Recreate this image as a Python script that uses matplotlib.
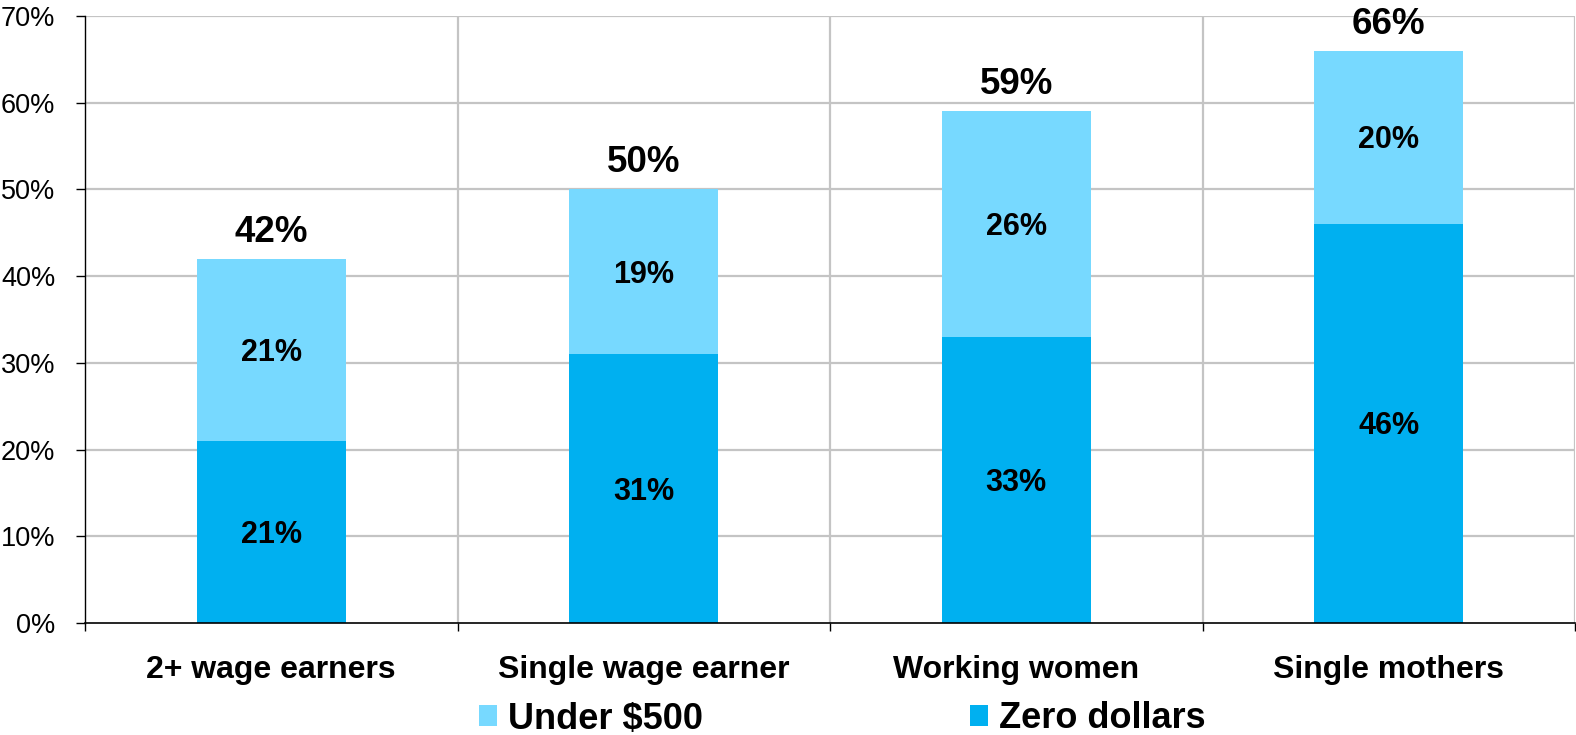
import matplotlib

matplotlib.use("Agg")
import matplotlib.pyplot as plt  # noqa: E402
import numpy as np  # noqa: E402
from matplotlib.patches import Patch  # noqa: E402

plt.rcParams["font.family"] = ["Liberation Sans", "DejaVu Sans"]

categories = ["2+ wage earners", "Single wage earner", "Working women", "Single mothers"]
zero_dollars = [21, 31, 33, 46]
under_500 = [21, 19, 26, 20]
totals = [42, 50, 59, 66]
y_ticks = [0, 10, 20, 30, 40, 50, 60, 70]

DARK = "#00B0F0"
LIGHT = "#77D9FF"
GRID = "#c4c4c4"

fig = plt.figure(figsize=(15.76, 7.35), dpi=100)
ax = fig.add_axes([85 / 1576, 112 / 735, 1490 / 1576, 607 / 735])

x = np.arange(len(categories))
ax.bar(x, zero_dollars, width=0.4, color=DARK, zorder=3)
ax.bar(x, under_500, width=0.4, bottom=zero_dollars, color=LIGHT, zorder=3)

# inner labels: put the baseline half a cap height below the segment middle
inner = 22
cap_off = -0.716 * inner / 2
for xi, z, u, t in zip(x, zero_dollars, under_500, totals):
    ax.annotate(f"{z}%", (xi, z / 2), xytext=(0, cap_off), textcoords="offset points",
                ha="center", va="baseline", fontsize=inner, fontweight="bold", zorder=4)
    ax.annotate(f"{u}%", (xi, z + u / 2), xytext=(0, cap_off), textcoords="offset points",
                ha="center", va="baseline", fontsize=inner, fontweight="bold", zorder=4)
    ax.annotate(f"{t}%", (xi, t), xytext=(0, 12.3), textcoords="offset points",
                ha="center", va="baseline", fontsize=26.5, fontweight="bold", zorder=4)

ax.set_xlim(-0.5, 3.5)
ax.set_ylim(0, 70)
ax.set_yticks(y_ticks)
ax.set_yticklabels([f"{v}%" for v in y_ticks], fontsize=19.5)
ax.tick_params(axis="y", length=6.5, width=1, direction="out", pad=15)

ax.set_xticks(x)
ax.set_xticklabels(categories, fontsize=23, fontweight="bold")
ax.set_xticks(np.arange(-0.5, 4.0, 1.0), minor=True)
ax.tick_params(axis="x", which="major", length=0, pad=23)
ax.tick_params(axis="x", which="minor", length=6, width=1, direction="out")

for v in y_ticks[1:]:
    ax.axhline(v, color=GRID, lw=1.6, zorder=1)
for b in [0.5, 1.5, 2.5, 3.5]:
    ax.axvline(b, color=GRID, lw=1.6, zorder=1)

for s in ["top", "right"]:
    ax.spines[s].set_visible(False)
ax.spines["left"].set_linewidth(1)
ax.spines["bottom"].set_linewidth(1.2)
ax.spines["bottom"].set_zorder(5)

handles = [Patch(facecolor=LIGHT, label="Under $500"),
           Patch(facecolor=DARK, label="Zero dollars")]
fig.legend(handles=handles, loc="center", bbox_to_anchor=(842 / 1576, 1 - 719 / 735),
           ncol=2, frameon=False, prop={"size": 26, "weight": "bold"},
           handlelength=0.5, handleheight=0.5, handletextpad=0.3, columnspacing=7.4,
           borderpad=0)

fig.savefig("out.png", dpi=100)
